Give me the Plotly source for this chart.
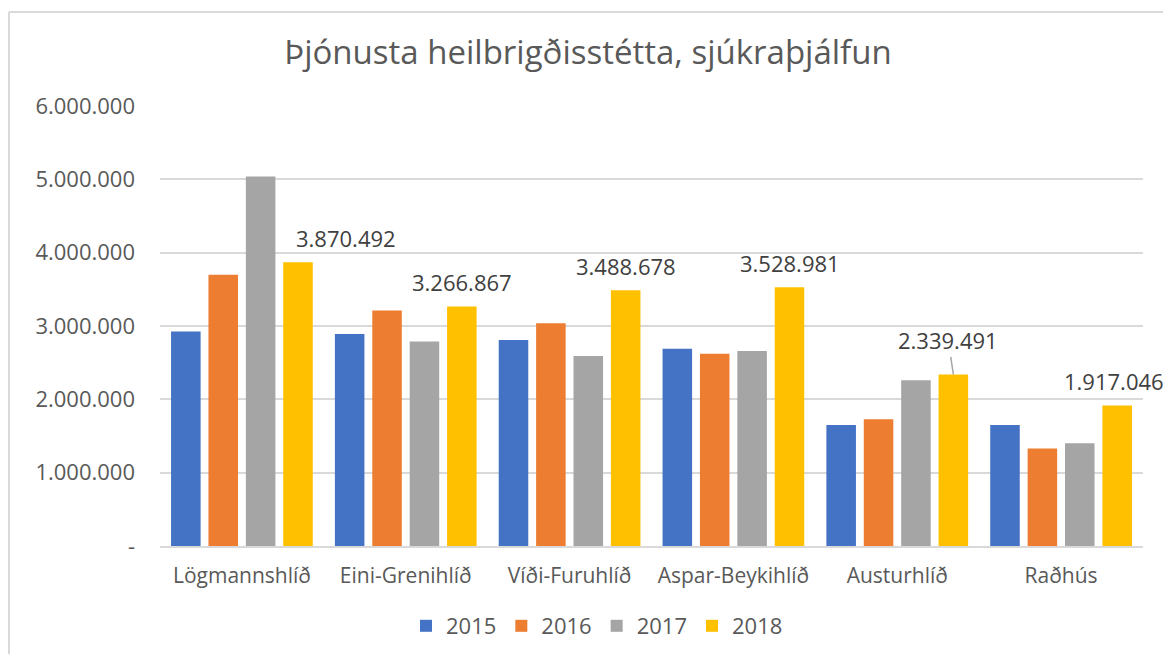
import plotly.graph_objects as go

categories = ["Lögmannshlíð", "Eini-Grenihlíð", "Víði-Furuhlíð", "Aspar-Beykihlíð", "Austurhlíð", "Raðhús"]
years = ["2015", "2016", "2017", "2018"]
v2015 = [2924000, 2891000, 2810000, 2690000, 1650000, 1650000]
v2016 = [3700000, 3210000, 3037000, 2620000, 1730000, 1330000]
v2017 = [5037000, 2790000, 2590000, 2660000, 2260000, 1400000]
v2018 = [3870492, 3266867, 3488678, 3528981, 2339491, 1917046]
series = [v2015, v2016, v2017, v2018]
colors = ["#4472C4", "#ED7D31", "#A5A5A5", "#FFC000"]

tick_vals = [0, 1000000, 2000000, 3000000, 4000000, 5000000, 6000000]
tick_text = ["-", "1.000.000", "2.000.000", "3.000.000", "4.000.000", "5.000.000", "6.000.000"]

title_text = "Þjónusta heilbrigðisstétta, sjúkraþjálfun"

W, H = 1163, 654
L, R, T, B = 152, 28, 98, 116
bargap = 0.087
bargroupgap = 0.21
FONT = "Open Sans"

fig = go.Figure()
for name, vals, col in zip(years, series, colors):
    fig.add_trace(go.Bar(name=name, x=categories, y=vals, marker=dict(color=col, line=dict(width=0)),
                         hoverinfo="x+y+name"))

# data labels for 2018 series
n = len(years)
off = ((n - 1 + 0.5) / n - 0.5) * (1 - bargap)
label_xshift = {"Lögmannshlíð": 48, "Raðhús": -3}
for i, (cat, v) in enumerate(zip(categories, v2018)):
    txt = f"{v:,}".replace(",", ".")
    ann = dict(x=i + off, y=v, xref="x", yref="y", text=txt,
               font=dict(family=FONT, size=22, color="#404040"))
    if cat == "Austurhlíð":
        ann.update(showarrow=True, arrowhead=0, arrowwidth=1.5, arrowcolor="#A6A6A6",
                   ax=-5, ay=-34, standoff=0)
    else:
        ann.update(showarrow=False, yshift=24, xanchor="center", yanchor="middle",
                   xshift=label_xshift.get(cat, 0))
    fig.add_annotation(**ann)

pw = W - L - R
ph = H - T - B
def px2x(px):
    return (px - L) / pw
def py2y(py):
    return (H - B - py) / ph

# chart border (top and left only visible)
fig.add_shape(type="line", xref="paper", yref="paper", x0=px2x(1), x1=px2x(W + 5), y0=py2y(4), y1=py2y(4),
              line=dict(color="#D9D9D9", width=2))
fig.add_shape(type="line", xref="paper", yref="paper", x0=px2x(1), x1=px2x(1), y0=py2y(4), y1=py2y(H + 5),
              line=dict(color="#D9D9D9", width=2))

fig.update_layout(
    width=W, height=H,
    margin=dict(l=L, r=R, t=T, b=B),
    paper_bgcolor="white", plot_bgcolor="white",
    separators=",.",
    barmode="group", bargap=bargap, bargroupgap=bargroupgap,
    title=dict(text=title_text, x=580 / W, xanchor="center", y=1 - 44 / H, yanchor="middle",
               xref="container", yref="container",
               font=dict(family=FONT, size=33, color="#595959")),
    xaxis=dict(range=[-0.5, len(categories) - 0.5], autorange=False,
               showgrid=False, showline=True, linecolor="#D9D9D9", linewidth=1.5,
               tickfont=dict(family=FONT, size=21, color="#595959"), ticks="",
               ticklabelstandoff=10),
    yaxis=dict(range=[0, 6000000], autorange=False, tickvals=tick_vals, ticktext=tick_text,
               showgrid=True, gridcolor="#D9D9D9", gridwidth=1.5, zeroline=False,
               showline=False, ticks="",
               tickfont=dict(family=FONT, size=22, color="#595959"),
               ticklabelstandoff=24),
    legend=dict(orientation="h", x=589 / W, xanchor="center", xref="container",
                y=1 - 618 / H, yref="container", yanchor="middle",
                font=dict(family=FONT, size=22, color="#595959"),
                itemwidth=30, traceorder="normal"),
    showlegend=True,
)

fig.write_html("out.html")
